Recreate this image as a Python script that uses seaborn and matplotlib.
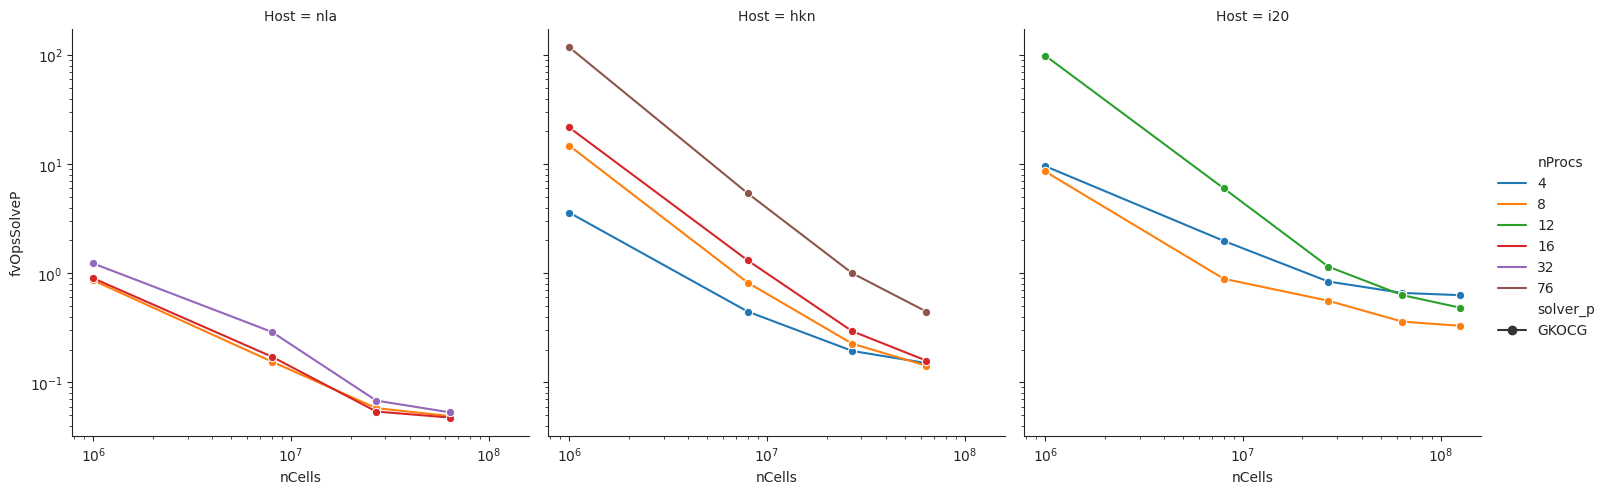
import numpy as np
import pandas as pd
import matplotlib
matplotlib.use("Agg")
import matplotlib.pyplot as plt
import seaborn as sns

# cell counts used in the runs
cells_4 = [1e6, 8e6, 2.7e7, 6.4e7]
cells_5 = [1e6, 8e6, 2.7e7, 6.4e7, 1.25e8]

# fvOpsSolveP per host / nProcs
nla_8 = [0.86, 0.155, 0.058, 0.049]
nla_16 = [0.90, 0.172, 0.054, 0.0475]
nla_32 = [1.23, 0.29, 0.068, 0.053]

hkn_4 = [3.6, 0.445, 0.194, 0.150]
hkn_8 = [14.8, 0.82, 0.226, 0.142]
hkn_16 = [21.7, 1.31, 0.294, 0.158]
hkn_76 = [118.0, 5.4, 1.0, 0.445]

i20_4 = [9.6, 1.98, 0.84, 0.66, 0.63]
i20_8 = [8.57, 0.89, 0.56, 0.36, 0.33]
i20_12 = [99.0, 6.0, 1.15, 0.63, 0.484]

procs_order = ["4", "8", "12", "16", "32", "76"]
hosts = ["nla", "hkn", "i20"]

series = [
    ("nla", "8", cells_4, nla_8),
    ("nla", "16", cells_4, nla_16),
    ("nla", "32", cells_4, nla_32),
    ("hkn", "4", cells_4, hkn_4),
    ("hkn", "8", cells_4, hkn_8),
    ("hkn", "16", cells_4, hkn_16),
    ("hkn", "76", cells_4, hkn_76),
    ("i20", "4", cells_5, i20_4),
    ("i20", "8", cells_5, i20_8),
    ("i20", "12", cells_5, i20_12),
]

rows = []
for host, np_, cells, vals in series:
    for c, v in zip(cells, vals):
        rows.append({"Host": host, "nProcs": np_, "nCells": c,
                     "fvOpsSolveP": v, "solver_p": "GKOCG"})
df = pd.DataFrame(rows)

sns.set_style("ticks")

g = sns.relplot(data=df, x="nCells", y="fvOpsSolveP", hue="nProcs",
                hue_order=procs_order, style="solver_p", markers=True,
                col="Host", col_order=hosts, kind="line",
                height=5, aspect=1)
g.set(xscale="log", yscale="log")
g.savefig("out.png", dpi=100)
